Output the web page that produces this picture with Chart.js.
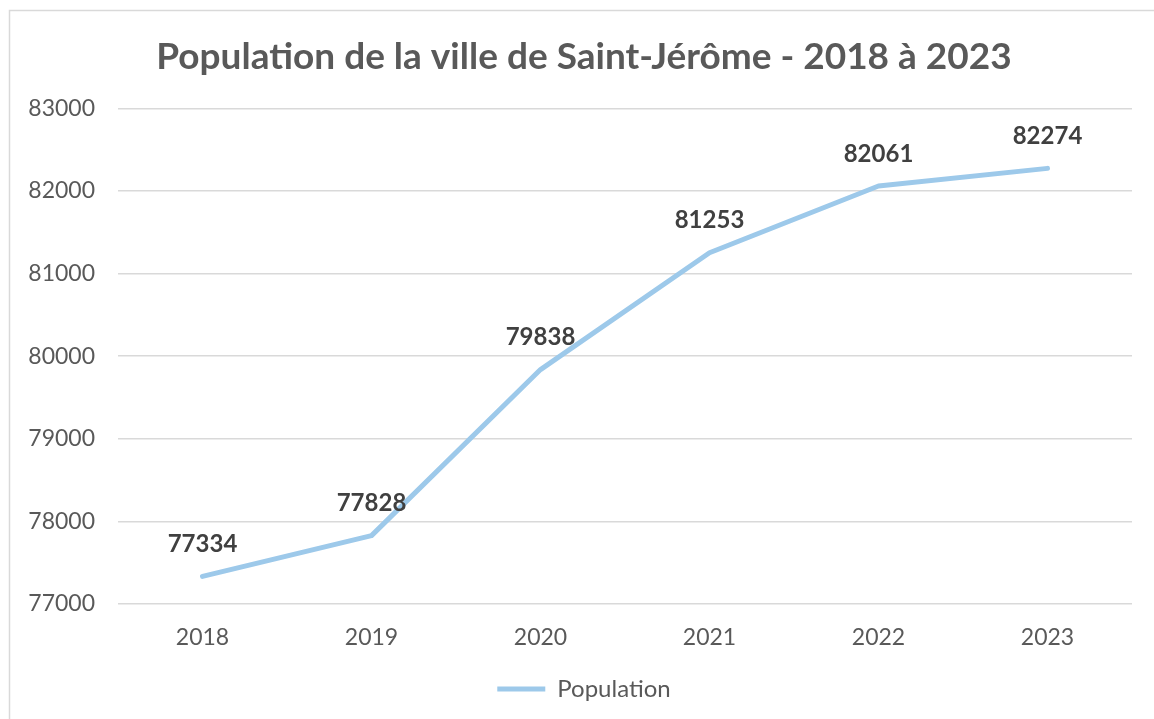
<!DOCTYPE html>
<html>
<head>
<meta charset="utf-8">
<script src="https://cdn.jsdelivr.net/npm/chart.js@4/dist/chart.umd.min.js"></script>
<style>
html,body{margin:0;padding:0;background:#fff;}
#wrap{position:relative;width:1154px;height:719px;}
</style>
</head>
<body>
<div id="wrap"><canvas id="c" width="1154" height="719"></canvas></div>
<script>
const categories = ['2018','2019','2020','2021','2022','2023'];
const population = [77334, 77828, 79838, 81253, 82061, 82274];
const yTicks = [77000, 78000, 79000, 80000, 81000, 82000, 83000];
const titleText = 'Population de la ville de Saint-Jérôme - 2018 à 2023';
const seriesName = 'Population';

const frame = {
  id: 'frame',
  beforeDraw(chart) {
    const ctx = chart.ctx;
    ctx.save();
    ctx.fillStyle = '#ffffff';
    ctx.fillRect(0, 0, chart.width, chart.height);
    ctx.strokeStyle = '#d9d9d9';
    ctx.lineWidth = 1.5;
    ctx.strokeRect(9.5, 10.5, chart.width + 20, chart.height + 20);
    ctx.restore();
  }
};

const dataLabels = {
  id: 'dataLabels',
  afterDatasetsDraw(chart) {
    const ctx = chart.ctx;
    ctx.save();
    ctx.font = 'bold 24px Lato';
    ctx.fillStyle = '#404040';
    ctx.textAlign = 'center';
    ctx.textBaseline = 'middle';
    chart.getDatasetMeta(0).data.forEach((pt, i) => {
      ctx.fillText(String(chart.data.datasets[0].data[i]), pt.x, pt.y - 32);
    });
    ctx.restore();
  }
};

new Chart(document.getElementById('c'), {
  type: 'line',
  data: {
    labels: categories,
    datasets: [{
      label: seriesName,
      data: population,
      borderColor: '#9DC9EA',
      backgroundColor: '#9DC9EA',
      borderWidth: 5,
      borderCapStyle: 'round',
      borderJoinStyle: 'round',
      pointRadius: 0,
      tension: 0
    }]
  },
  options: {
    responsive: false,
    animation: false,
    layout: { padding: { left: 36, right: 22, top: 0, bottom: 8 } },
    plugins: {
      title: {
        display: true,
        text: titleText,
        color: '#595959',
        font: { family: 'Lato', size: 37, weight: 'bold' },
        padding: { top: 35, bottom: 29 }
      },
      legend: {
        display: true,
        position: 'bottom',
        labels: {
          usePointStyle: true,
          pointStyle: 'line',
          pointStyleWidth: 48,
          color: '#595959',
          font: { family: 'Lato', size: 24 },
          padding: 10
        }
      },
      tooltip: { enabled: false }
    },
    scales: {
      x: {
        offset: true,
        grid: { display: false, drawTicks: false },
        border: { display: false },
        ticks: { color: '#595959', font: { family: 'Lato', size: 23 }, padding: 20 },
        afterFit(s) { s.height = 63; }
      },
      y: {
        min: 77000,
        max: 83000,
        afterBuildTicks(s) { s.ticks = yTicks.map(v => ({ value: v })); },
        grid: { color: '#d9d9d9', lineWidth: 1.5, drawTicks: false },
        border: { display: false },
        ticks: { color: '#595959', font: { family: 'Lato', size: 23 }, padding: 23, callback: v => String(v) },
        afterFit(s) { s.width = 82; s._computeLabelArea = () => undefined; }
      }
    }
  },
  plugins: [frame, dataLabels]
});
</script>
</body>
</html>
